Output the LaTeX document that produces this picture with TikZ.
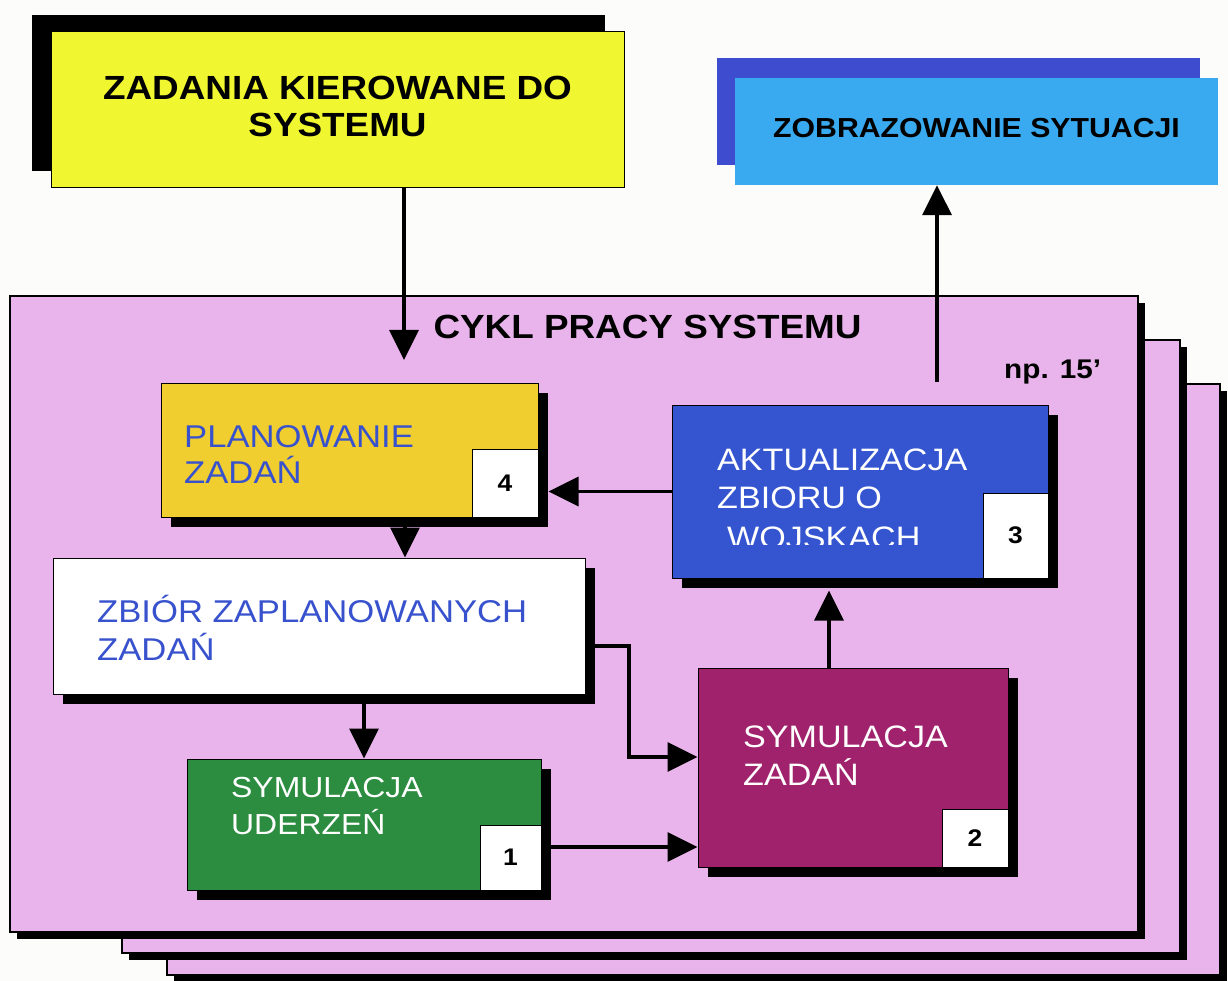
\documentclass[tikz,border=0pt]{standalone}
\usepackage{fontspec}
\setmainfont{Liberation Sans}[FakeStretch=1.1]
\usetikzlibrary{arrows.meta,shadows,calc}

\definecolor{pagebg}{RGB}{252,252,250}
\definecolor{pinkbg}{RGB}{233,180,236}
\definecolor{lemon}{RGB}{240,246,48}
\definecolor{gold}{RGB}{240,206,48}
\definecolor{taskblue}{RGB}{52,84,208}
\definecolor{textblue}{RGB}{56,82,206}
\definecolor{plum}{RGB}{160,34,108}
\definecolor{leaf}{RGB}{44,140,64}
\definecolor{sky}{RGB}{58,170,240}
\definecolor{deepblue}{RGB}{62,76,208}

\newcommand\fsz[1]{\fontsize{#1}{#1}\selectfont}

\begin{document}
\begin{tikzpicture}[x=1pt,y=-1pt,
  box/.style={rectangle, inner sep=0pt, draw=black, line width=1pt},
  boxshadow/.style={drop shadow={shadow xshift=10pt, shadow yshift=-10pt, fill=black, opacity=1}},
  frame/.style={box, fill=pinkbg, line width=1.3pt,
    drop shadow={shadow xshift=7pt, shadow yshift=-7pt, fill=black, opacity=1}},
  numbox/.style={box, fill=white, font=\fsz{24}\bfseries},
  lbl/.style={anchor=base west, inner sep=0pt},
  clbl/.style={anchor=base, inner sep=0pt},
  arr/.style={line width=3.5pt, -{Triangle[length=30pt,width=29pt]}},
]
% page
\path[fill=pagebg] (0,0) rectangle (1228,981);
\useasboundingbox (0,0) rectangle (1228,981);

% stacked cycle sheets
\node[frame, minimum width=1053pt, minimum height=591pt] (sheetC) at (693.5,679.5) {};
\node[frame, minimum width=1058pt, minimum height=613pt] (sheetB) at (651,646.5) {};
\node[frame, minimum width=1128pt, minimum height=636pt] (sheetA) at (574,614) {};

% top boxes
\node[box, fill=lemon, minimum width=573pt, minimum height=156pt,
  drop shadow={shadow xshift=-19pt, shadow yshift=17pt, fill=black, opacity=1}] (title) at (337.5,110) {};
\node[clbl, font=\fsz{33.5}\bfseries] (titleA) at (337.5,100) {ZADANIA KIEROWANE DO};
\node[clbl, font=\fsz{33.5}\bfseries] (titleB) at (337.5,137) {SYSTEMU};

\node[rectangle, inner sep=0pt, fill=sky, minimum width=483pt, minimum height=107pt,
  drop shadow={shadow xshift=-18pt, shadow yshift=20pt, fill=deepblue, opacity=1}] (zob) at (976.5,131.5) {};
\node[clbl, font=\fsz{27.5}\bfseries] (zobT) at (976.5,138) {ZOBRAZOWANIE SYTUACJI};

% sheet labels
\node[clbl, font=\fsz{33.5}\bfseries] (cycle) at (647.5,338) {CYKL PRACY SYSTEMU};
\node[lbl, font=\fsz{27}\bfseries] (period) at (1004,378) {np. 15’};

% task planning
\node[box, fill=gold, boxshadow, minimum width=377pt, minimum height=134pt] (plan) at (349.5,450) {};
\node[numbox, minimum width=66pt, minimum height=68pt] (num4) at (505,483) {4};
\node[lbl, font=\fsz{31.5}, text=textblue] (planA) at (184,447) {PLANOWANIE};
\node[lbl, font=\fsz{31.5}, text=textblue] (planB) at (184,483) {ZADAŃ};

% force data update
\node[box, fill=taskblue, boxshadow, minimum width=376pt, minimum height=173pt] (akt) at (860,491.5) {};
\node[numbox, minimum width=65pt, minimum height=85pt] (num3) at (1015.5,535.5) {3};
\node[lbl, font=\fsz{31}, text=white] (aktA) at (717,470) {AKTUALIZACJA};
\node[lbl, font=\fsz{31}, text=white] (aktB) at (717,508) {ZBIORU O};
\begin{scope}
  \clip (700,500) rectangle (980,544);
  \node[lbl, font=\fsz{31}, text=white] (aktC) at (727,548) {WOJSKACH};
\end{scope}

% planned tasks
\node[box, fill=white, boxshadow, minimum width=532pt, minimum height=136pt] (zbior) at (319,626) {};
\node[lbl, font=\fsz{31.5}, text=textblue] (zbiorA) at (97,622) {ZBIÓR ZAPLANOWANYCH};
\node[lbl, font=\fsz{31.5}, text=textblue] (zbiorB) at (97,660) {ZADAŃ};

% strike simulation
\node[box, fill=leaf, boxshadow, minimum width=354pt, minimum height=131pt] (green) at (364,824.5) {};
\node[numbox, minimum width=61pt, minimum height=65pt] (num1) at (510.5,857.5) {1};
\node[lbl, font=\fsz{29}, text=white] (greenA) at (231,797) {SYMULACJA};
\node[lbl, font=\fsz{29}, text=white] (greenB) at (231,834) {UDERZEŃ};

% task simulation
\node[box, fill=plum, boxshadow, minimum width=310pt, minimum height=199pt] (purp) at (853,767.5) {};
\node[numbox, minimum width=66pt, minimum height=58pt] (num2) at (975,838) {2};
\node[lbl, font=\fsz{31}, text=white] (purpA) at (743,747) {SYMULACJA};
\node[lbl, font=\fsz{31}, text=white] (purpB) at (743,785) {ZADAŃ};

% helper points for the connectors
\coordinate (inTip) at (404,360);
\coordinate (laneA) at (405,0);
\coordinate (bend) at (629,646);
\coordinate (laneC) at (829,0);
\coordinate (outStart) at (937,382);

% connectors
\draw[arr] (title.south -| inTip) -- (inTip);
\draw[arr] (akt.west) -- ($(akt.west -| plan.east)+(10,0)$);
\draw[arr] (plan.south -| laneA) -- (zbior.north -| laneA);
\draw[arr] (zbior.south -| green.north) -- (green.north);
\draw[arr] (zbior.east |- bend) -- (bend) |- ($(purp.west)+(0,-10.5)$);
\draw[arr] (green.east |- 0,847) -- (purp.west |- 0,847);
\draw[arr] (purp.north -| laneC) -- ($(akt.south -| laneC)+(0,12)$);
\draw[arr] (outStart) -- (zob.south -| outStart);
\end{tikzpicture}
\end{document}
